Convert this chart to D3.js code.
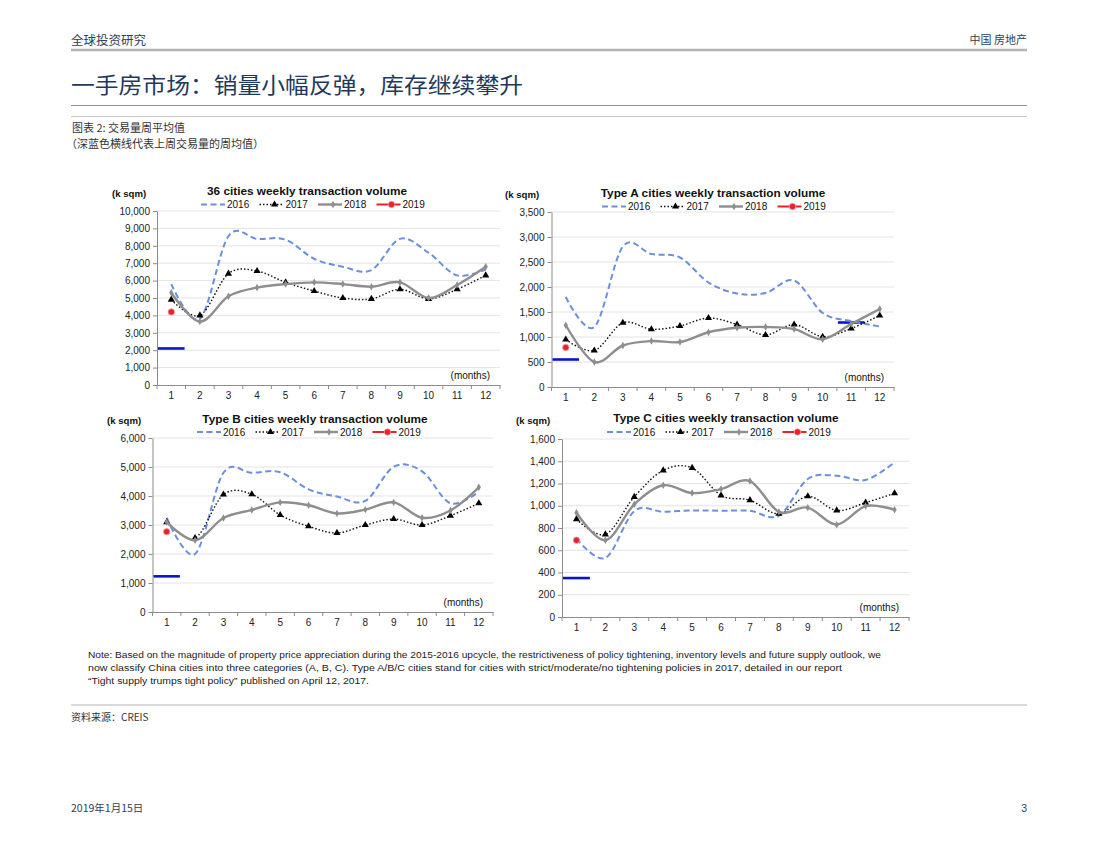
<!DOCTYPE html>
<html><head><meta charset="utf-8">
<script src="https://cdn.jsdelivr.net/npm/d3@7"></script>
<style>
body{margin:0;background:#fff}
svg{display:block}
text{font-family:"Liberation Sans",Arial,sans-serif}
.cjk{font-family:"Noto Sans CJK SC","Liberation Sans",sans-serif}
</style>
</head><body><svg id="c" width="1100" height="850"></svg>
<script>
// ---------------- data ----------------
const months = [1,2,3,4,5,6,7,8,9,10,11,12];
const years = ["2016","2017","2018","2019"];

const titles = [
  "36 cities weekly transaction volume",
  "Type A cities weekly transaction volume",
  "Type B cities weekly transaction volume",
  "Type C cities weekly transaction volume"
];

// 36 cities
const c36_2016 = [5800,3800,8550,8400,8350,7250,6800,6600,8400,7600,6300,6650];
const c36_2017 = [4900,4000,6400,6550,5900,5400,5000,4950,5500,4950,5500,6300];
const c36_2018 = [5300,3650,5100,5600,5800,5900,5800,5650,5900,5000,5750,6800];
const c36_2019 = [4200];
const c36_lastWeekMonth = [1];
const c36_lastWeekValue = [2100];
const c36_ticks = [0,1000,2000,3000,4000,5000,6000,7000,8000,9000,10000];

// Type A
const a_2016 = [1800,1200,2810,2660,2590,2090,1870,1880,2130,1480,1320,1210];
const a_2017 = [950,730,1285,1155,1220,1380,1250,1040,1250,1005,1170,1430];
const a_2018 = [1235,500,830,920,900,1095,1185,1200,1160,955,1260,1560];
const a_2019 = [790];
const a_lastWeekMonth = [1,11];
const a_lastWeekValue = [550,1290];
const a_ticks = [0,500,1000,1500,2000,2500,3000,3500];

// Type B
const b_2016 = [3250,2000,4800,4800,4820,4230,3980,3830,5010,4850,3750,4150];
const b_2017 = [3100,2550,4050,4060,3345,2955,2725,3000,3205,3000,3320,3750];
const b_2018 = [3100,2470,3240,3520,3780,3680,3400,3530,3780,3250,3500,4300];
const b_2019 = [2770];
const b_lastWeekMonth = [1];
const b_lastWeekValue = [1230];
const b_ticks = [0,1000,2000,3000,4000,5000,6000];

// Type C
const cc_2016 = [705,530,952,946,958,955,955,910,1240,1270,1232,1390];
const cc_2017 = [880,742,1080,1318,1340,1093,1050,928,1085,958,1028,1112];
const cc_2018 = [937,690,1013,1184,1114,1150,1222,945,983,830,997,964];
const cc_2019 = [690];
const cc_lastWeekMonth = [1];
const cc_lastWeekValue = [350];
const cc_ticks = [0,200,400,600,800,1000,1200,1400,1600];

const noteLines = [
  "Note: Based on the magnitude of property price appreciation during the 2015-2016 upcycle, the restrictiveness of policy tightening, inventory levels and future supply outlook, we",
  "now classify China cities into three categories (A, B, C). Type A/B/C cities stand for cities with strict/moderate/no tightening policies in 2017, detailed in our report",
  "\u201cTight supply trumps tight policy\u201d published on April 12, 2017."
];

// ---------------- layout / style ----------------
const charts = [
  {title:titles[0], s:[c36_2016,c36_2017,c36_2018,c36_2019], lwM:c36_lastWeekMonth, lwV:c36_lastWeekValue, ticks:c36_ticks,
   L:{left:157, right:500, top:211, bottom:385, titleX:307, titleY:194.5, legendX:201, legendY:204.5, unitX:112, unitY:196.5}},
  {title:titles[1], s:[a_2016,a_2017,a_2018,a_2019], lwM:a_lastWeekMonth, lwV:a_lastWeekValue, ticks:a_ticks,
   L:{left:551.5, right:894, top:212, bottom:387, titleX:713, titleY:197, legendX:602, legendY:206.5, unitX:505, unitY:198}},
  {title:titles[2], s:[b_2016,b_2017,b_2018,b_2019], lwM:b_lastWeekMonth, lwV:b_lastWeekValue, ticks:b_ticks,
   L:{left:152.5, right:493, top:438, bottom:612, titleX:315, titleY:423, legendX:197, legendY:432, unitX:107, unitY:424}},
  {title:titles[3], s:[cc_2016,cc_2017,cc_2018,cc_2019], lwM:cc_lastWeekMonth, lwV:cc_lastWeekValue, ticks:cc_ticks,
   L:{left:562, right:909, top:439, bottom:617, titleX:726, titleY:422, legendX:607, legendY:432, unitX:516, unitY:424}}
];

const styles = [
  {color:"#6b8fdc", width:2, dash:"6,3.5", marker:null},
  {color:"#111", width:1.4, dash:"1.5,2", marker:"tri"},
  {color:"#8e8e8e", width:2.4, dash:null, marker:"dia"},
  {color:"#e8212b", width:2, dash:null, marker:"circ"}
];

const svg = d3.select("#c");
svg.append("rect").attr("width",1100).attr("height",850).attr("fill","#fff");

// ---------------- page header ----------------
svg.append("text").attr("class","cjk").attr("x",71).attr("y",44.5).attr("font-size",12.5).attr("fill","#2f3e57").text("全球投资研究");
svg.append("text").attr("class","cjk").attr("x",1027).attr("y",44).attr("text-anchor","end").attr("font-size",11).attr("fill","#2f3e57").text("中国 房地产");
svg.append("line").attr("x1",71).attr("x2",1027).attr("y1",50).attr("y2",50).attr("stroke","#b4b4b4").attr("stroke-width",2.5);
svg.append("text").attr("class","cjk").attr("x",71).attr("y",93).attr("font-size",22).attr("fill","#1f3a5c")
   .attr("textLength",452).attr("lengthAdjust","spacingAndGlyphs").text("一手房市场：销量小幅反弹，库存继续攀升");
svg.append("line").attr("x1",71).attr("x2",1027).attr("y1",105.5).attr("y2",105.5).attr("stroke","#8a939e").attr("stroke-width",1);
svg.append("line").attr("x1",71).attr("x2",1027).attr("y1",116.5).attr("y2",116.5).attr("stroke","#c4c4c4").attr("stroke-width",1);
svg.append("text").attr("class","cjk").attr("x",72).attr("y",132).attr("font-size",11).attr("fill","#333").text("图表 2: 交易量周平均值");
svg.append("text").attr("class","cjk").attr("x",66).attr("y",148).attr("font-size",11).attr("fill","#333").text("（深蓝色横线代表上周交易量的周均值）");

// ---------------- charts ----------------
function marker(g, type, x, y, st){
  if(type==="tri"){
    g.append("path").attr("d", d3.symbol().type(d3.symbolTriangle).size(22)()).attr("transform",`translate(${x},${y})`).attr("fill","#000");
  } else if(type==="dia"){
    g.append("path").attr("d", d3.symbol().type(d3.symbolDiamond).size(16)()).attr("transform",`translate(${x},${y})`).attr("fill","#8e8e8e");
  } else if(type==="circ"){
    g.append("circle").attr("cx",x).attr("cy",y).attr("r",3.2).attr("fill",st.color).attr("stroke","#f3a0a4").attr("stroke-width",0.8);
  }
}

charts.forEach(ch=>{
  const L = ch.L;
  const g = svg.append("g");
  const x = d3.scaleBand().domain(months).range([L.left, L.right]);
  const y = d3.scaleLinear().domain([0, d3.max(ch.ticks)]).range([L.bottom, L.top]);
  const cx = m => x(m) + x.bandwidth()/2;

  // gridlines
  g.append("g").selectAll("line").data(ch.ticks.filter(t=>t>0)).join("line")
    .attr("x1",L.left).attr("x2",L.right).attr("y1",d=>y(d)).attr("y2",d=>y(d))
    .attr("stroke","#dcdcdc").attr("stroke-width",0.8);

  // y axis
  const ya = g.append("g").attr("transform",`translate(${L.left},0)`)
    .call(d3.axisLeft(y).tickValues(ch.ticks).tickFormat(d3.format(",")).tickSize(4).tickSizeOuter(0).tickPadding(3));
  ya.select(".domain").attr("stroke","#8c8c8c");
  ya.selectAll(".tick line").attr("stroke","#8c8c8c");
  ya.selectAll("text").attr("font-size",10).attr("fill","#222").attr("font-family","Liberation Sans, Arial, sans-serif");

  // x axis
  const xa = g.append("g").attr("transform",`translate(0,${L.bottom})`)
    .call(d3.axisBottom(x).tickSize(0).tickPadding(7));
  xa.select(".domain").attr("stroke","#8c8c8c");
  xa.selectAll("text").attr("font-size",10).attr("fill","#222").attr("font-family","Liberation Sans, Arial, sans-serif");
  const bounds = months.map(m=>x(m)).concat([L.right]);
  g.append("g").selectAll("line").data(bounds).join("line")
    .attr("x1",d=>d).attr("x2",d=>d).attr("y1",L.bottom).attr("y2",L.bottom+4)
    .attr("stroke","#8c8c8c");

  // title, unit, months label
  g.append("text").attr("x",L.titleX).attr("y",L.titleY).attr("text-anchor","middle")
    .attr("font-size",11.8).attr("font-weight","bold").attr("fill","#111").text(ch.title);
  g.append("text").attr("x",L.unitX).attr("y",L.unitY).attr("font-size",9.6).attr("font-weight","bold").attr("fill","#111").text("(k sqm)");
  g.append("text").attr("x",L.right-10).attr("y",L.bottom-6).attr("text-anchor","end")
    .attr("font-size",10).attr("fill","#111").text("(months)");

  // last-week lines
  ch.lwM.forEach((m,i)=>{
    g.append("line").attr("x1",x(m)+1).attr("x2",x(m)+x.bandwidth()-1)
      .attr("y1",y(ch.lwV[i])).attr("y2",y(ch.lwV[i]))
      .attr("stroke","#0a14c8").attr("stroke-width",2.6);
  });

  // series
  const line = d3.line().x((d,i)=>cx(months[i])).y(d=>y(d)).curve(d3.curveCardinal.tension(0));
  ch.s.forEach((vals,si)=>{
    const st = styles[si];
    if(vals.length>1){
      const p = g.append("path").attr("d",line(vals)).attr("fill","none")
        .attr("stroke",st.color).attr("stroke-width",st.width).attr("stroke-linejoin","round");
      if(st.dash) p.attr("stroke-dasharray",st.dash);
    }
    if(st.marker) vals.forEach((v,i)=>marker(g, st.marker, cx(months[i]), y(v), st));
  });

  // legend
  years.forEach((yr,i)=>{
    const st = styles[i];
    const lx = L.legendX + i*58.5, ly = L.legendY;
    const ln = g.append("line").attr("x1",lx).attr("x2",lx+24).attr("y1",ly).attr("y2",ly)
      .attr("stroke",st.color).attr("stroke-width",st.width);
    if(st.dash) ln.attr("stroke-dasharray",st.dash);
    if(st.marker) marker(g, st.marker, lx+15, ly, st);
    g.append("text").attr("x",lx+26).attr("y",ly+3.6).attr("font-size",10).attr("fill","#111").text(yr);
  });
});

// ---------------- notes & footer ----------------
const noteW = [793, 754, 281];
noteLines.forEach((t,i)=>{
  svg.append("text").attr("x",88).attr("y",658+i*13.2).attr("font-size",9.6).attr("fill","#222")
    .attr("textLength",noteW[i]).attr("lengthAdjust","spacingAndGlyphs").text(t);
});
svg.append("line").attr("x1",71).attr("x2",1027).attr("y1",705).attr("y2",705).attr("stroke","#b4b4b4").attr("stroke-width",1);
svg.append("text").attr("class","cjk").attr("x",71).attr("y",720.5).attr("font-size",10).attr("fill","#333").text("资料来源：CREIS");
svg.append("text").attr("class","cjk").attr("x",71).attr("y",812).attr("font-size",10.5).attr("fill","#2f3e57").text("2019年1月15日");
svg.append("text").attr("x",1027).attr("y",812).attr("text-anchor","end").attr("font-size",10.5).attr("fill","#2f3e57").text("3");
</script></body></html>
